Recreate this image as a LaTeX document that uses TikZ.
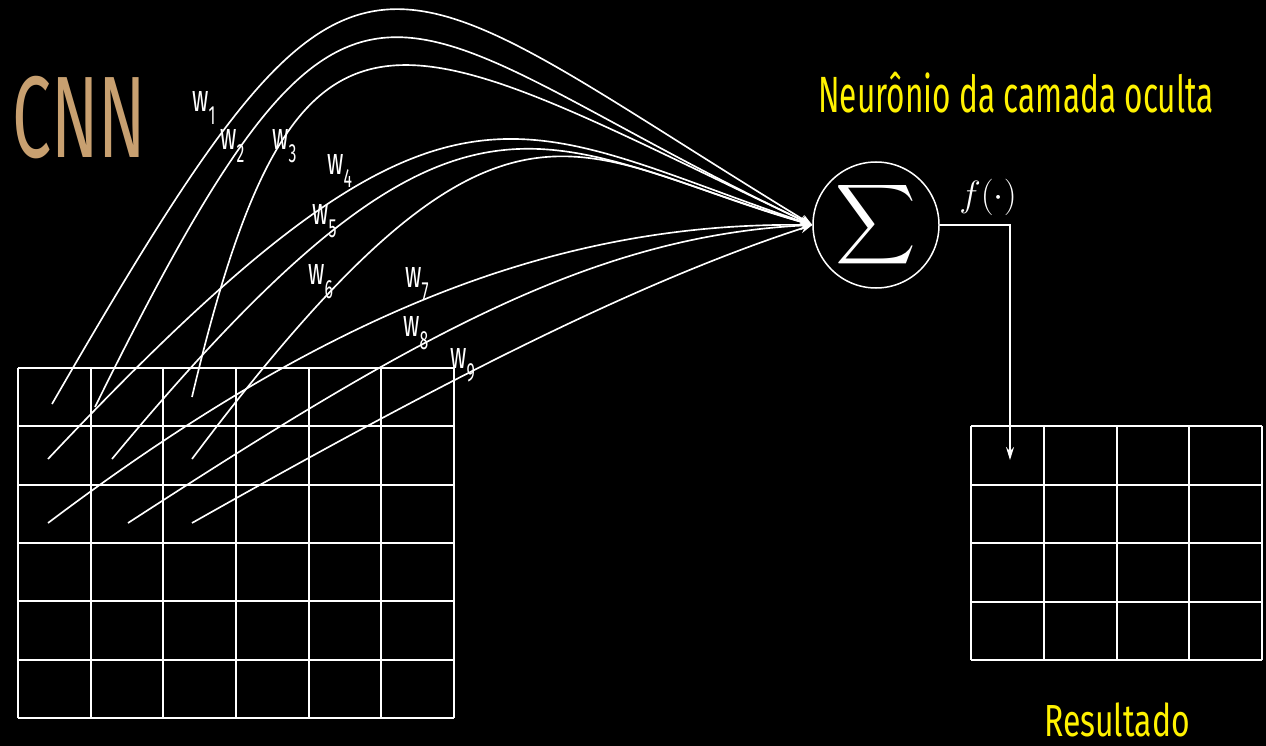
\documentclass[tikz,border=0pt]{standalone}
\usepackage{exscale}
\usepackage{graphicx}
\usepackage{fontspec}
\usepackage{tikz}
\usetikzlibrary{arrows.meta}
\newfontfamily\condfont[FakeStretch=0.6]{Fira Sans}
\newfontfamily\titlefont[FakeStretch=0.62]{Fira Sans}
\newfontfamily\resfont[FakeStretch=0.71]{Fira Sans}
\definecolor{cnntan}{RGB}{200,160,112}
\newcommand{\wsub}[1]{w\raisebox{-2.6mm}{\fontsize{15}{15}\selectfont #1}}

\begin{document}
\begin{tikzpicture}[x=0.2mm, y=-0.2mm,
  wire/.style={-{Stealth[length=2.4mm,width=1.8mm]}, white, line width=0.33mm},
  gridline/.style={white, line width=0.4mm},
  neuron/.style={circle, draw=white, line width=0.3mm, minimum size=25.2mm,
                 inner sep=0pt, text=white},
  wlab/.style={anchor=base west, inner sep=0pt, text=white,
               font=\condfont\fontsize{21.6}{22}\selectfont},
  title/.style={inner sep=0pt, text=yellow}
]
\useasboundingbox (0,0) rectangle (1266,746);
\fill[black] (0,0) rectangle (1266,746);

% input map 6x6
\foreach \i in {0,...,6}
  \draw[gridline] ({18+72.67*\i},368) -- ({18+72.67*\i},718);
\foreach \j in {0,...,6}
  \draw[gridline] (18,{368+58.33*\j}) -- (454,{368+58.33*\j});

% result map 4x4
\foreach \i in {0,...,4}
  \draw[gridline] ({971+72.75*\i},426) -- ({971+72.75*\i},660);
\foreach \j in {0,...,4}
  \draw[gridline] (971,{426+58.5*\j}) -- (1262,{426+58.5*\j});

\node[anchor=base west, inner sep=0pt, text=cnntan,
      font=\condfont\fontsize{66}{66}\selectfont] (cnn) at (12,158) {CNN};
\node[title, anchor=base west, font=\titlefont\fontsize{29}{29}\selectfont]
      (hidden) at (818,113) {Neurônio da camada oculta};
\node[title, anchor=base, font=\resfont\fontsize{25.6}{26}\selectfont]
      (result) at (1117,736) {Resultado};

\node[neuron] (sum) at (876,225)
  {\fontsize{24.88}{25}\selectfont\scalebox{1.28}{$\displaystyle\sum$}};
\node[text=white, inner sep=0pt] (act) at (988,197) {\fontsize{22}{22}\selectfont$f(\cdot)$};

% receptive field
\coordinate (p1) at (52,404);
\coordinate (p2) at (95,407);
\coordinate (p3) at (192,397);
\coordinate (p4) at (48,459);
\coordinate (p5) at (112,459);
\coordinate (p6) at (192,459);
\coordinate (p7) at (48,523);
\coordinate (p8) at (128,523);
\coordinate (p9) at (192,523);
\coordinate (out) at (1010,460);

\draw[wire] (p1) .. controls (362,-133) and (364,-48) .. (sum.west);
\draw[wire] (p2) .. controls (360,-130) and (380,20) .. (sum.west);
\draw[wire] (p3) .. controls (300,-60) and (400,30) .. (sum.west);
\draw[wire] (p4) .. controls (450,32) and (508,122) .. (sum.west);
\draw[wire] (p5) .. controls (464,35) and (535,143) .. (sum.west);
\draw[wire] (p6) .. controls (507,39) and (572,158) .. (sum.west);
\draw[wire] (p7) .. controls (330,310) and (560,222) .. (sum.west);
\draw[wire] (p8) .. controls (410,340) and (590,236) .. (sum.west);
\draw[wire] (p9) .. controls (410,400) and (621,287) .. (sum.west);

\draw[white, line width=0.3mm, -{Stealth[length=2.6mm,width=1.6mm]}]
  (sum.east) -| (out);

\node[wlab] (w1) at (192,112) {\wsub{1}};
\node[wlab] (w2) at (220,150) {\wsub{2}};
\node[wlab] (w3) at (272,150) {\wsub{3}};
\node[wlab] (w4) at (327,175) {\wsub{4}};
\node[wlab] (w5) at (312,224) {\wsub{5}};
\node[wlab] (w6) at (308,285) {\wsub{6}};
\node[wlab] (w7) at (405,287) {\wsub{7}};
\node[wlab] (w8) at (403,336) {\wsub{8}};
\node[wlab] (w9) at (450,368) {\wsub{9}};

\end{tikzpicture}
\end{document}
